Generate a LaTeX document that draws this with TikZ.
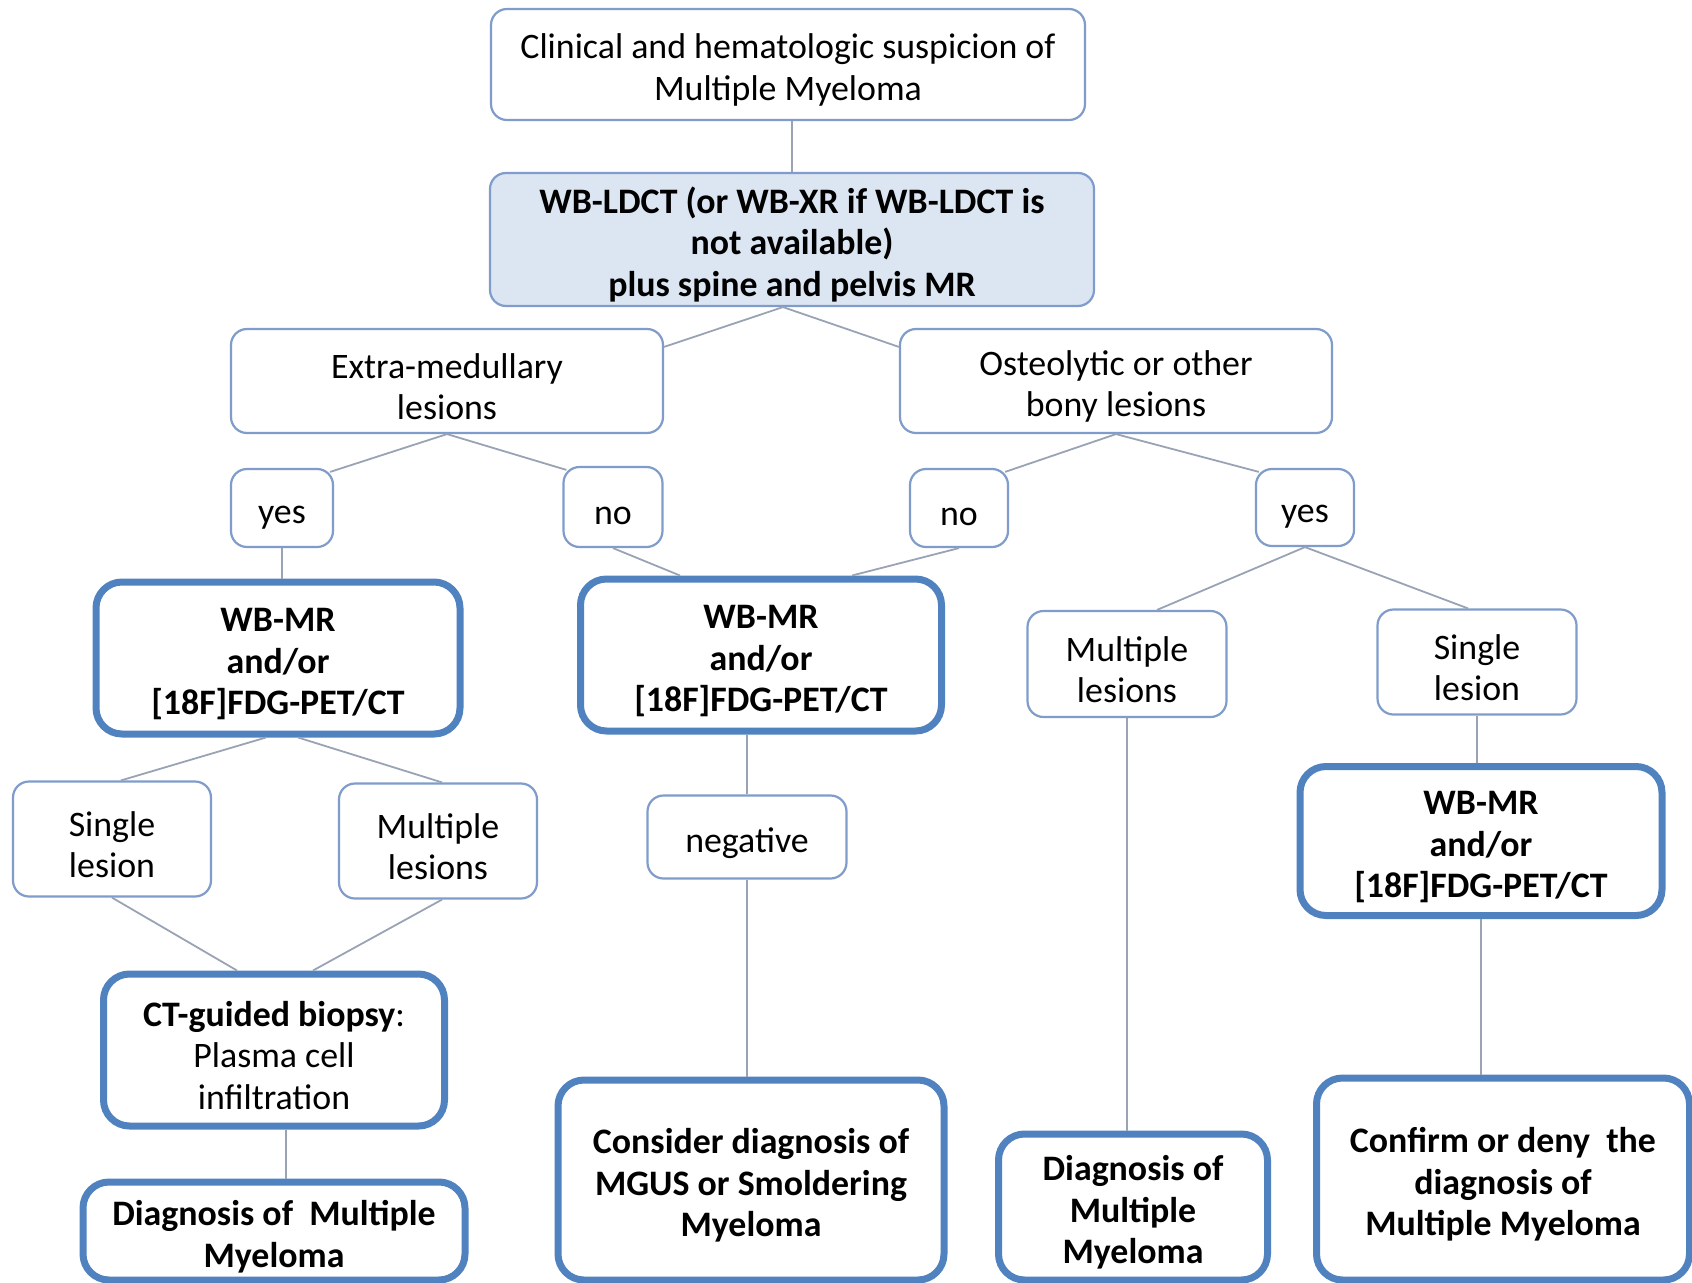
\documentclass[tikz,border=0pt]{standalone}
\usepackage{fontspec}
\setmainfont{Carlito}
\usepackage{tikz}
\usetikzlibrary{positioning, calc}
\definecolor{mmthin}{HTML}{7F9CCB}
\definecolor{mmthick}{HTML}{5082C0}
\definecolor{mmfill}{HTML}{DCE6F2}
\definecolor{mmline}{HTML}{9AA3B5}

\begin{document}
\begin{tikzpicture}[x=0.1mm, y=-0.1mm,
    box/.style={rectangle, rounded corners=1.6mm, draw=mmthin, line width=0.22mm,
                fill=white, align=flush center, inner sep=0pt,
                font=\fontsize{10.2}{11.8}\selectfont,
                execute at begin node={\rule{0pt}{10.3pt}}},
    heavy/.style={box, draw=mmthick, line width=0.7mm, rounded corners=2.6mm,
                  font=\fontsize{10.2}{11.8}\selectfont\bfseries},
    sz/.style 2 args={minimum width=#1, text width=#1, minimum height=#2},
    link/.style={draw=mmline, line width=0.18mm}
]
\useasboundingbox (0,0) rectangle (1692,1283);

\node[box, sz={59.4mm}{11.1mm}] (top) at (788,64.5)
    {Clinical and hematologic suspicion of\\Multiple Myeloma};
\node[box, fill=mmfill, sz={60.4mm}{13.3mm},
      font=\fontsize{10.2}{11.8}\selectfont\bfseries] (wbl) at (792,239.5)
    {WB-LDCT (or WB-XR if WB-LDCT is\\not available)\\plus spine and pelvis MR};

\node[box, sz={43.2mm}{10.4mm}] (extra) at (447,381) {Extra-medullary\\lesions};
\node[box, sz={43.2mm}{10.4mm}] (osteo) at (1116,381) {Osteolytic or other\\bony lesions};

\node[box, sz={10.2mm}{7.8mm}] (yesA) at (282,508) {yes};
\node[box, sz={9.9mm}{8.0mm}] (noA) at (613,507) {no};
\node[box, sz={9.8mm}{7.8mm}] (noB) at (959,508) {no};
\node[box, sz={9.8mm}{7.7mm}] (yesB) at (1305,507.5) {yes};

\node[heavy, sz={36.4mm}{15.2mm}] (wbmrA) at (278,658) {WB-MR\\and/or\\{[18F]}FDG-PET/CT};
\node[heavy, sz={36.1mm}{15.2mm}] (wbmrB) at (761,655) {WB-MR\\and/or\\{[18F]}FDG-PET/CT};
\node[box, sz={19.9mm}{10.6mm}] (multiB) at (1127,664) {Multiple\\lesions};
\node[box, sz={19.9mm}{10.5mm}] (singleB) at (1477,662) {Single\\lesion};

\node[box, sz={19.8mm}{11.5mm}] (singleA) at (112,839) {Single\\lesion};
\node[box, sz={19.8mm}{11.5mm}] (multiA) at (438,841) {Multiple\\lesions};
\node[box, sz={19.9mm}{8.3mm}] (neg) at (747,837) {negative};
\node[heavy, sz={36.2mm}{14.9mm}] (wbmrC) at (1481,841) {WB-MR\\and/or\\{[18F]}FDG-PET/CT};

\node[heavy, font=\fontsize{10.2}{11.8}\selectfont, sz={34.1mm}{15.2mm}] (biopsy) at (274,1050)
    {\textbf{CT-guided biopsy}:\\Plasma cell\\infiltration};
\node[heavy, sz={38.2mm}{9.8mm}] (diagA) at (274,1231) {Diagnosis of\ \ Multiple\\Myeloma};
\node[heavy, sz={38.6mm}{20.0mm}] (consider) at (751,1180)
    {Consider diagnosis of\\MGUS or Smoldering\\Myeloma};
\node[heavy, sz={26.9mm}{14.6mm}] (diagB) at (1133,1207) {Diagnosis of\\Multiple\\Myeloma};
\node[heavy, sz={37.3mm}{20.2mm}] (confirm) at (1503,1179)
    {Confirm or deny\ \ the\\diagnosis of\\Multiple Myeloma};

\draw[link] (wbl.north |- top.south) -- (wbl.north);
\draw[link] ($(extra.north east)+(0,19)$) -- ($(wbl.south)+(-9,0)$) -- ($(osteo.north west)+(0,19)$);
\draw[link] ($(yesA.north east)+(-4,4)$) -- (extra.south) -- ($(noA.north west)+(4,4)$);
\draw[link] ($(noB.north east)+(-4,4)$) -- (osteo.south) -- ($(yesB.north west)+(4,4)$);
\draw[link] (yesA.south) -- (yesA.south |- wbmrA.north);
\draw[link] (noA.south) -- ($(wbmrB.north)+(-81,0)$);
\draw[link] (noB.south) -- ($(wbmrB.north)+(91,0)$);
\draw[link] ($(multiB.north)+(30,0)$) -- (yesB.south) -- ($(singleB.north)+(-9,0)$);
\draw[link] ($(wbmrA.south)+(-12,0)$) -- ($(singleA.north)+(9,0)$);
\draw[link] ($(wbmrA.south)+(20,0)$) -- ($(multiA.north)+(4,0)$);
\draw[link] (singleA.south) -- ($(biopsy.north)+(-37,0)$);
\draw[link] ($(multiA.south)+(4,0)$) -- ($(biopsy.north)+(39,0)$);
\draw[link] ($(biopsy.south)+(12,0)$) -- ($(diagA.north)+(12,0)$);
\draw[link] (neg.north) -- (neg.north |- wbmrB.south);
\draw[link] (neg.south) -- (neg.south |- consider.north);
\draw[link] (multiB.south) -- (multiB.south |- diagB.north);
\draw[link] (singleB.south) -- (singleB.south |- wbmrC.north);
\draw[link] (wbmrC.south) -- (wbmrC.south |- confirm.north);
\end{tikzpicture}
\end{document}
